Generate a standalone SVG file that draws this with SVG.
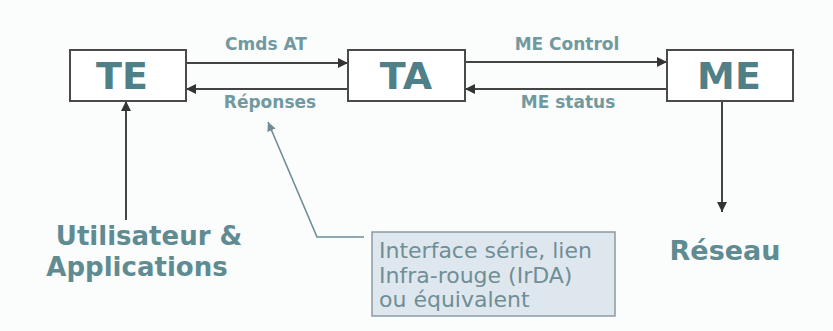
<svg xmlns="http://www.w3.org/2000/svg" width="833" height="331" viewBox="0 0 833 331">
<defs>
<style>
.box{fill:#ffffff;stroke:#4a4a4a;stroke-width:2}
.big{font-family:"DejaVu Sans",Verdana,sans-serif;font-weight:bold;font-size:38px;fill:#4f8088;text-anchor:middle}
.lbl{font-family:"DejaVu Sans",Verdana,sans-serif;font-weight:bold;font-size:17px;fill:#7199a0;text-anchor:middle}
.ext{font-family:"DejaVu Sans",Verdana,sans-serif;font-weight:bold;font-size:27px;fill:#5f8b92;text-anchor:middle}
.usr{font-size:26px}
.line{stroke:#444;stroke-width:2;fill:none}
.call{stroke:#6f8d96;stroke-width:1.6;fill:none}
.note{font-family:"DejaVu Sans",Verdana,sans-serif;font-size:22px;fill:#6f8e96}
</style>
<marker id="ah" viewBox="0 0 10 10" refX="10" refY="5" markerWidth="10" markerHeight="10" orient="auto" markerUnits="userSpaceOnUse">
<path d="M0,0 L10,5 L0,10 z" fill="#333"/>
</marker>
<marker id="ahc" viewBox="0 0 10 10" refX="10" refY="5" markerWidth="9" markerHeight="9" orient="auto" markerUnits="userSpaceOnUse">
<path d="M0,0 L10,5 L0,10 z" fill="#6f8d96"/>
</marker>
</defs>
<rect x="0" y="0" width="833" height="331" fill="#fbfcfc"/>
<g id="connectors">
<line class="line" x1="186" y1="63" x2="348" y2="63" marker-end="url(#ah)"/>
<line class="line" x1="348" y1="89" x2="186" y2="89" marker-end="url(#ah)"/>
<line class="line" x1="465" y1="62" x2="667" y2="62" marker-end="url(#ah)"/>
<line class="line" x1="667" y1="89" x2="465" y2="89" marker-end="url(#ah)"/>
<line class="line" x1="126" y1="220" x2="126" y2="101" marker-end="url(#ah)"/>
<line class="line" x1="722" y1="101" x2="722" y2="212" marker-end="url(#ah)"/>
<polyline class="call" points="364,237 317,237 268,122" marker-end="url(#ahc)"/>
<text class="lbl" x="266" y="50">Cmds AT</text>
<text class="lbl" x="270" y="108">Réponses</text>
<text class="lbl" x="567" y="50">ME Control</text>
<text class="lbl" x="568" y="108">ME status</text>
</g>
<g id="TE">
<rect class="box" x="70" y="50" width="116" height="51"/>
<text class="big" x="122" y="89">TE</text>
</g>
<g id="TA">
<rect class="box" x="348" y="50" width="117" height="51"/>
<text class="big" x="406" y="89">TA</text>
</g>
<g id="ME">
<rect class="box" x="667" y="50" width="126" height="51"/>
<text class="big" x="729" y="89">ME</text>
</g>
<g id="user">
<text class="ext usr" x="149" y="245">Utilisateur &amp;</text>
<text class="ext usr" x="137" y="276">Applications</text>
</g>
<g id="reseau">
<text class="ext" x="725" y="260">Réseau</text>
</g>
<g id="interface">
<rect x="372" y="232" width="243" height="84" fill="#dfe7ee" stroke="#8c9ba4" stroke-width="1.5"/>
<text class="note" x="379" y="258">Interface série, lien</text>
<text class="note" x="379" y="283">Infra-rouge (IrDA)</text>
<text class="note" x="379" y="307">ou équivalent</text>
</g>
</svg>
